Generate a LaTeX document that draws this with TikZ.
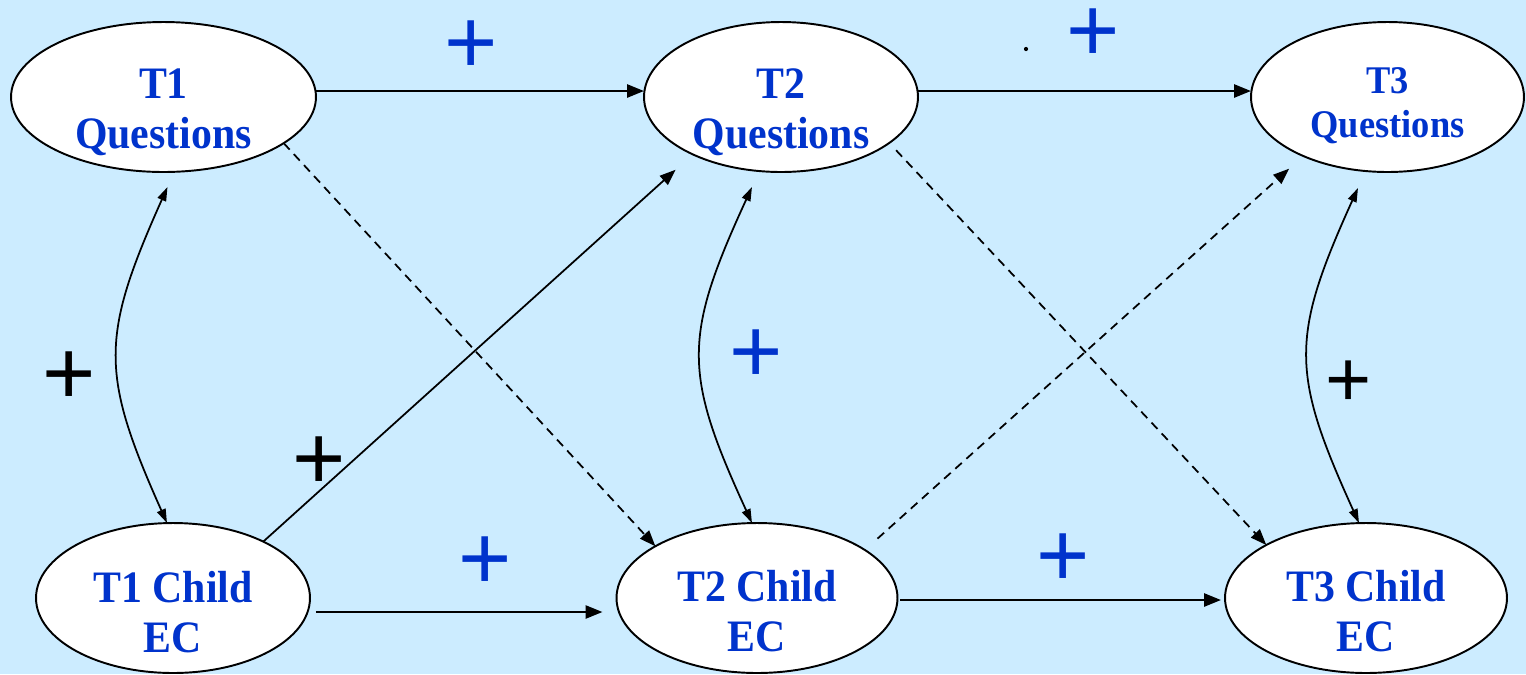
\documentclass[tikz,border=0pt]{standalone}
\usepackage{fontspec}
\usepackage{tikz}
\usetikzlibrary{arrows.meta, positioning, shapes.geometric}
\newfontfamily\ovalfont[FakeStretch=0.93]{Liberation Serif}
\newfontfamily\plusfont{Liberation Sans}
\definecolor{skyblue}{RGB}{204,236,255}
\definecolor{textblue}{RGB}{0,51,204}

\begin{document}
\begin{tikzpicture}[
        x=0.02cm, y=-0.02cm,
        oval/.style={ellipse, draw, fill=white, line width=1.1pt, inner sep=0pt, outer sep=0pt, minimum height=3cm},
        oval_text/.style={text=textblue, align=center, inner sep=0pt, anchor=north, font=\ovalfont\bfseries\fontsize{25.6}{28.5}\selectfont},
        plus_sign/.style={text=textblue, inner sep=0pt, font=\plusfont\fontsize{52}{52}\selectfont},
        line/.style={draw, line width=1.5pt, -{Triangle[length=0.34cm, width=0.26cm]}},
        thin_line/.style={draw, line width=1pt, -{Triangle[length=0.32cm, width=0.24cm]}},
        dash_line/.style={thin_line, dash pattern=on 5pt off 3.5pt},
        curve_line/.style={draw, line width=1pt, {Triangle[length=0.28cm, width=0.18cm]}-{Triangle[length=0.28cm, width=0.18cm]}}
    ]
    \fill[skyblue] (0,0) rectangle (1526,674);
    \useasboundingbox (0,0) rectangle (1526,674);

    % Questions
    \node[oval, minimum width=6.1cm] (q1) at (163.5,97) {};
    \node[oval, minimum width=5.48cm] (q2) at (781,97) {};
    \node[oval, minimum width=5.46cm] (q3) at (1387.5,97) {};
    \node[oval_text] (q1_text) at (163.5,68) {T1\\Questions};
    \node[oval_text] (q2_text) at (781,68) {T2\\Questions};
    \node[oval_text, font=\ovalfont\bfseries\fontsize{22.3}{25}\selectfont] (q3_text) at (1387.5,67) {T3\\Questions};

    % Child EC
    \node[oval, minimum width=5.48cm] (c1) at (173,598) {};
    \node[oval, minimum width=5.62cm] (c2) at (757,598) {};
    \node[oval, minimum width=5.64cm] (c3) at (1366,598) {};
    \node[oval_text] (c1_text) at (173,571) {T1 Child\\EC};
    \node[oval_text] (c2_text) at (757,570) {T2 Child\\EC};
    \node[oval_text] (c3_text) at (1366,570) {T3 Child\\EC};

    % Connections
    \path[line] ([yshift=0.12cm]q1.east) -- ([yshift=0.12cm]q2.west);
    \path[line] ([yshift=0.12cm]q2.east) -- ([yshift=0.12cm]q3.west);
    \path[line] ([shift={(6,14)}]c1.east) -- ([shift={(-14,14)}]c2.west);
    \path[line] ([shift={(3,2)}]c2.east) -- ([shift={(-4,2)}]c3.west);

    \path[thin_line, shorten >=0.46cm] (c1.32) -- (q2.213);
    \path[dash_line] (q1.339) -- (c2.153);
    \path[dash_line, shorten <=0.2cm] (q2.337) -- (c3.152);
    \path[dash_line, shorten <=0.34cm, shorten >=0.38cm] (c2.24) -- (q3.215);

    \path[curve_line] ([shift={(4,15)}]q1.south) .. controls +(-67,150) and +(-67,-150) .. ([shift={(-6,0)}]c1.north);
    \path[curve_line] ([shift={(-29,15)}]q2.south) .. controls +(-69,150) and +(-69,-150) .. ([shift={(-5,0)}]c2.north);
    \path[curve_line] ([shift={(-29.5,16)}]q3.south) .. controls +(-68,150) and +(-68,-150) .. ([shift={(-7,0)}]c3.north);

    % Signs
    \node[plus_sign] (p_q12) at (471,47) {+};
    \node[plus_sign] (p_q23) at (1093,35) {+};
    \node[plus_sign] (p_c12) at (485,563) {+};
    \node[plus_sign] (p_c23) at (1063,560) {+};
    \node[plus_sign] (p_t2) at (756.5,356) {+};
    \node[plus_sign, text=black] (p_t1) at (69.5,378) {+};
    \node[plus_sign, text=black] (p_cross) at (319,463) {+};
    \node[plus_sign, text=black, font=\plusfont\fontsize{45}{45}\selectfont] (p_t3) at (1349,384) {+};
    \fill (1026,49) circle (1.2pt);
\end{tikzpicture}
\end{document}
